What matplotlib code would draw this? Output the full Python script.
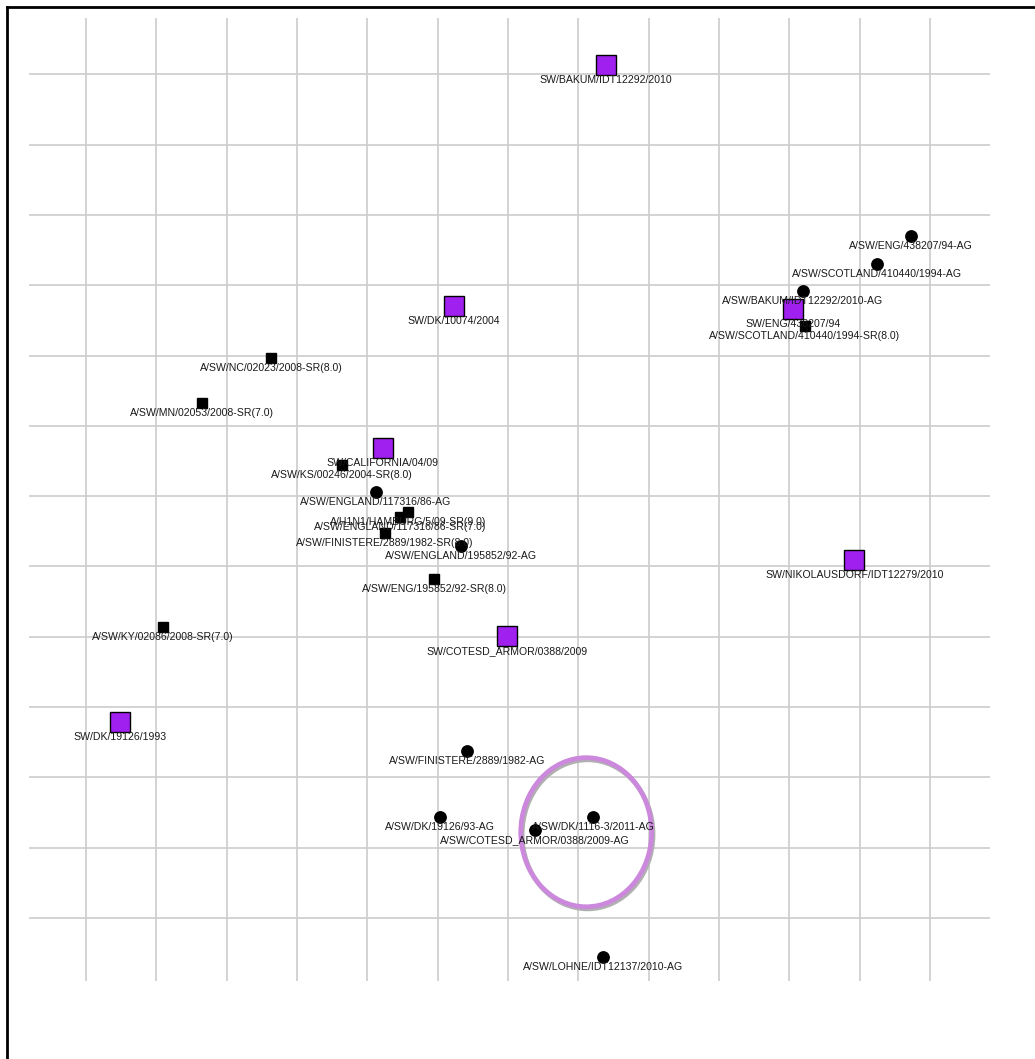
import matplotlib
matplotlib.use("Agg")
import matplotlib.pyplot as plt
from matplotlib.lines import Line2D
from matplotlib.patches import Ellipse
import numpy as np

# antigens (big purple squares)
ant_names = ["SW/BAKUM/IDT12292/2010", "SW/DK/10074/2004", "SW/CALIFORNIA/04/09",
             "SW/ENG/438207/94", "SW/NIKOLAUSDORF/IDT12279/2010",
             "SW/COTESD_ARMOR/0388/2009", "SW/DK/19126/1993"]
ant_x = [7.39, 5.23, 4.22, 10.05, 10.92, 5.99, 0.48]
ant_y = [12.13, 8.70, 6.68, 8.66, 5.09, 4.01, 2.79]

# sera (small black squares)
sr_names = ["A/SW/NC/02023/2008-SR(8.0)", "A/SW/MN/02053/2008-SR(7.0)",
            "A/SW/KS/00246/2004-SR(8.0)", "A/H1N1/HAMBURG/5/09-SR(9.0)",
            "A/SW/ENGLAND/117316/86-SR(7.0)", "A/SW/FINISTERE/2889/1982-SR(8.0)",
            "A/SW/ENG/195852/92-SR(8.0)", "A/SW/KY/02086/2008-SR(7.0)",
            "A/SW/SCOTLAND/410440/1994-SR(8.0)"]
sr_x = [2.63, 1.65, 3.64, 4.58, 4.46, 4.25, 4.95, 1.09, 10.22]
sr_y = [7.96, 7.32, 6.44, 5.77, 5.70, 5.47, 4.82, 4.14, 8.42]

# antigens (black dots)
ag_names = ["A/SW/ENG/438207/94-AG", "A/SW/SCOTLAND/410440/1994-AG",
            "A/SW/BAKUM/IDT12292/2010-AG", "A/SW/ENGLAND/117316/86-AG",
            "A/SW/ENGLAND/195852/92-AG", "A/SW/FINISTERE/2889/1982-AG",
            "A/SW/DK/19126/93-AG", "A/SW/DK/1116-3/2011-AG",
            "A/SW/COTESD_ARMOR/0388/2009-AG", "A/SW/LOHNE/IDT12137/2010-AG"]
ag_x = [11.72, 11.25, 10.19, 4.12, 5.33, 5.42, 5.03, 7.21, 6.38, 7.35]
ag_y = [9.70, 9.30, 8.92, 6.06, 5.29, 2.37, 1.44, 1.44, 1.25, -0.55]

# highlighted cluster
circle_center = (7.11, 1.22)
circle_w = 1.86
circle_h = 2.12

fig = plt.figure(figsize=(10.35, 10.59), dpi=100)
W, H = 1035.0, 1059.0
ax = fig.add_axes([29 / W, 1 - 981 / H, (990 - 29) / W, (981 - 18) / H])
ax.set_xlim(-0.81, 12.85)
ax.set_ylim(-0.896, 12.80)
ax.set_xticks(np.arange(0, 13))
ax.set_yticks(np.arange(0, 13))
ax.grid(True, color="#cccccc", linewidth=1.2)
ax.tick_params(length=0, labelbottom=False, labelleft=False)
for s in ax.spines.values():
    s.set_visible(False)
ax.set_axisbelow(True)

lab = dict(ha="center", va="center", fontsize=7.6, color="#1a1a1a",
           family="Liberation Sans", textcoords="offset points", zorder=6)

# shadow + ellipse
ax.add_patch(Ellipse((circle_center[0] + 0.02, circle_center[1] - 0.03), circle_w, circle_h,
                     fill=False, edgecolor="#b0b0b0", linewidth=3.4, zorder=2))
ax.add_patch(Ellipse(circle_center, circle_w, circle_h,
                     fill=False, edgecolor="#cc88dd", linewidth=3.4, zorder=3))

ax.plot(sr_x, sr_y, "s", color="black", markersize=7.8, linestyle="none", zorder=4)
ax.plot(ag_x, ag_y, "o", color="black", markersize=8.2, linestyle="none", zorder=4)
ax.plot(ant_x, ant_y, "s", markerfacecolor="#a020f0", markeredgecolor="black",
        markeredgewidth=1.0, markersize=14.0, linestyle="none", zorder=5)

for n, x, y in zip(sr_names, sr_x, sr_y):
    ax.annotate(n, (x, y), xytext=(0, -7.2), **lab)
for n, x, y in zip(ag_names, ag_x, ag_y):
    ax.annotate(n, (x, y), xytext=(0, -7.2), **lab)
for n, x, y in zip(ant_names, ant_x, ant_y):
    ax.annotate(n, (x, y), xytext=(0, -10.8), **lab)

# frame on top and left
fig.add_artist(Line2D([7 / W, 1], [1 - 7 / H, 1 - 7 / H], color="black", linewidth=2.0))
fig.add_artist(Line2D([7 / W, 7 / W], [0, 1 - 7 / H], color="black", linewidth=2.0))

fig.savefig("out.png", dpi=100)
